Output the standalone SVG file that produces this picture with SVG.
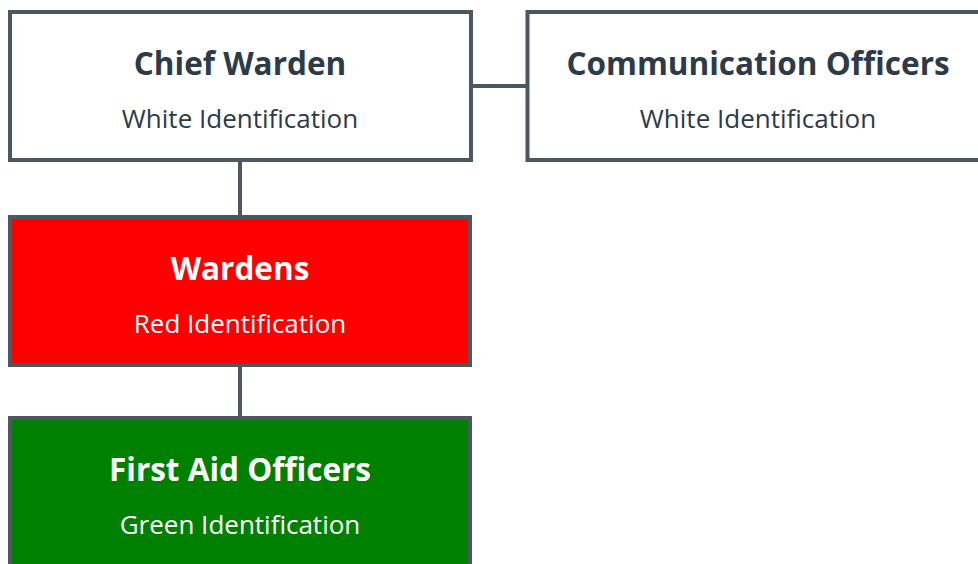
<svg xmlns="http://www.w3.org/2000/svg" width="978" height="564" viewBox="0 0 978 564">
<style>
.box{stroke:#4d5760;stroke-width:4}
.conn{stroke:#4d5760;stroke-width:4;fill:none}
.t{font-family:"Open Sans","Noto Sans",sans-serif;font-weight:bold;font-size:31.5px;text-anchor:middle}
.s{font-family:"Open Sans","Noto Sans",sans-serif;font-size:26px;text-anchor:middle}
.dark{fill:#2d3a48}
.light{fill:#ffffff}
</style>
<rect width="978" height="564" fill="#ffffff"/>
<g id="connectors">
<line class="conn" x1="471" y1="86" x2="527.5" y2="86"/>
<line class="conn" x1="240" y1="160" x2="240" y2="217"/>
<line class="conn" x1="240" y1="365" x2="240" y2="418"/>
</g>
<g id="chief-warden">
<rect class="box" x="10" y="12" width="461" height="148" fill="#ffffff"/>
<text class="t dark" x="240" y="75">Chief Warden</text>
<text class="s dark" x="240" y="128">White Identification</text>
</g>
<g id="communication-officers">
<rect class="box" x="527.5" y="12" width="461" height="148" fill="#ffffff"/>
<text class="t dark" x="758" y="75">Communication Officers</text>
<text class="s dark" x="758" y="128">White Identification</text>
</g>
<g id="wardens">
<rect class="box" x="10" y="217" width="460" height="148" fill="#ff0000"/>
<text class="t light" x="240" y="280">Wardens</text>
<text class="s light" x="240" y="333">Red Identification</text>
</g>
<g id="first-aid-officers">
<rect class="box" x="10" y="418" width="460" height="148" fill="#008000"/>
<text class="t light" x="240" y="481">First Aid Officers</text>
<text class="s light" x="240" y="534">Green Identification</text>
</g>
</svg>
